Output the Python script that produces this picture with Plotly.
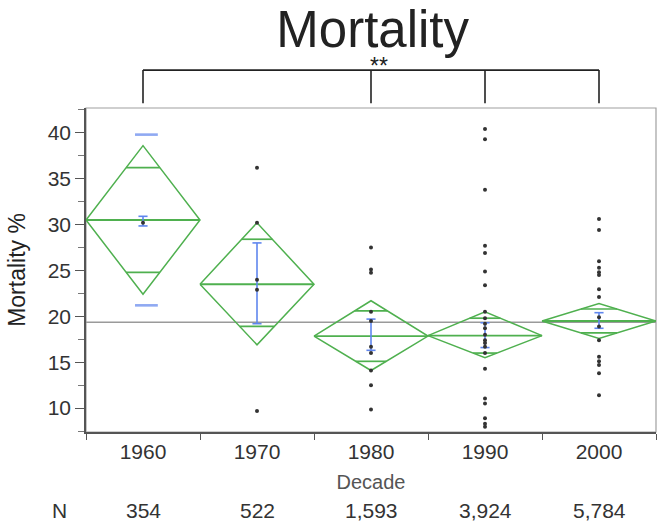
import plotly.graph_objects as go

# ---------------- data ----------------
decades = ["1960", "1970", "1980", "1990", "2000"]
n_values = ["354", "522", "1,593", "3,924", "5,784"]

means = [30.5, 23.5, 17.85, 17.9, 19.5]
ci_upper = [38.6, 30.2, 21.7, 20.5, 21.4]
ci_lower = [22.4, 16.9, 14.1, 15.5, 17.6]
overlap_hi = [36.2, 28.4, 20.6, 19.8, 20.8]
overlap_lo = [24.8, 18.9, 15.1, 16.0, 18.2]

err_hi = [30.9, 28.0, 19.7, 19.3, 20.4]
err_lo = [29.85, 19.2, 16.3, 16.6, 18.7]

std_hi = [39.8, None, None, None, None]
std_lo = [21.2, None, None, None, None]

grand_mean = 19.35

points = {
    "1960": [30.2],
    "1970": [36.2, 30.2, 24.0, 22.9, 9.7],
    "1980": [27.5, 25.1, 24.75, 20.5, 19.5, 16.7, 16.0, 14.1, 12.5, 9.86],
    "1990": [40.4, 39.3, 33.8, 27.7, 26.9, 24.9, 23.4, 20.5, 19.8, 19.2, 18.7,
             18.0, 17.4, 17.1, 16.7, 16.0, 14.3, 11.05, 10.5, 8.9, 8.3, 7.96],
    "2000": [30.6, 29.4, 26.0, 25.3, 24.8, 24.5, 22.95, 22.1, 19.9, 18.9, 17.4,
             15.6, 15.1, 14.7, 13.8, 11.4],
}

bracket_groups = ["1960", "1980", "1990", "2000"]
bracket_label = "**"

# ---------------- styling ----------------
FONT = "Liberation Sans, Arial, sans-serif"
GREEN = "#4fb04f"
BLUE = "#5f86ee"
LIGHTBLUE = "#8fa9f2"
HALF = 0.5

fig = go.Figure()

# grand mean line
fig.add_trace(go.Scatter(x=[-0.5, len(decades) - 0.5], y=[grand_mean, grand_mean],
                         xaxis="x2", mode="lines",
                         line=dict(color="#9a9a9a", width=1.6),
                         hoverinfo="skip", showlegend=False))

# diamonds
dx, dy = [], []
mx, my = [], []
ox, oy = [], []
for i, d in enumerate(decades):
    m, u, l = means[i], ci_upper[i], ci_lower[i]
    dx += [i - HALF, i, i + HALF, i, i - HALF, None]
    dy += [m, u, m, l, m, None]
    mx += [i - HALF, i + HALF, None]
    my += [m, m, None]
    for ov, edge in ((overlap_hi[i], u), (overlap_lo[i], l)):
        w = HALF * abs(edge - ov) / abs(edge - m)
        ox += [i - w, i + w, None]
        oy += [ov, ov, None]

fig.add_trace(go.Scatter(x=dx, y=dy, xaxis="x2", mode="lines",
                         line=dict(color=GREEN, width=1.5),
                         hoverinfo="skip", showlegend=False))
fig.add_trace(go.Scatter(x=mx, y=my, xaxis="x2", mode="lines",
                         line=dict(color=GREEN, width=1.9),
                         hoverinfo="skip", showlegend=False))
fig.add_trace(go.Scatter(x=ox, y=oy, xaxis="x2", mode="lines",
                         line=dict(color=GREEN, width=1.7),
                         hoverinfo="skip", showlegend=False))

# std dev dashes
sx, sy = [], []
for i, d in enumerate(decades):
    for v in (std_hi[i], std_lo[i]):
        if v is not None:
            sx += [i - 0.07, i + 0.13, None]
            sy += [v, v, None]
fig.add_trace(go.Scatter(x=sx, y=sy, xaxis="x2", mode="lines",
                         line=dict(color=LIGHTBLUE, width=2.6),
                         hoverinfo="skip", showlegend=False))

# mean error bars
ex, ey = [], []
cap = 0.04
for i, d in enumerate(decades):
    ex += [i, i, None, i - cap, i + cap, None, i - cap, i + cap, None]
    ey += [err_lo[i], err_hi[i], None, err_lo[i], err_lo[i], None,
           err_hi[i], err_hi[i], None]
fig.add_trace(go.Scatter(x=ex, y=ey, xaxis="x2", mode="lines",
                         line=dict(color=BLUE, width=1.6),
                         hoverinfo="skip", showlegend=False))

# individual points
px, py = [], []
for i, d in enumerate(decades):
    for v in points[d]:
        px.append(i)
        py.append(v)
fig.add_trace(go.Scatter(x=px, y=py, xaxis="x2", mode="markers",
                         marker=dict(color="#333333", size=4),
                         hoverinfo="skip", showlegend=False))

# dummy trace on the category axis so the labels show
fig.add_trace(go.Scatter(x=decades, y=[None] * len(decades), mode="markers",
                         hoverinfo="skip", showlegend=False))

# frame (top/right light lines)
fig.add_shape(type="rect", xref="paper", yref="paper", x0=0, x1=1, y0=0, y1=1,
              line=dict(color="#a0a0a0", width=1.2), layer="below")

# comparison bracket
b_idx = [decades.index(g) for g in bracket_groups]
y_top, y_bot = 1.117, 1.015
fig.add_shape(type="line", xref="x2", yref="paper", x0=min(b_idx), x1=max(b_idx),
              y0=y_top, y1=y_top, line=dict(color="#222", width=1.6))
for bi in b_idx:
    fig.add_shape(type="line", xref="x2", yref="paper", x0=bi, x1=bi,
                  y0=y_top, y1=y_bot, line=dict(color="#222", width=1.6))
fig.add_annotation(x=decades.index("1980") + 0.07, y=1.13, xref="x2", yref="paper",
                   text=bracket_label, showarrow=False,
                   font=dict(family=FONT, size=23, color="#222"),
                   yanchor="middle")

# N row
fig.add_annotation(x=-0.046, y=-0.241, xref="paper", yref="paper", text="N",
                   showarrow=False, font=dict(family=FONT, size=21, color="#333"),
                   xanchor="center", yanchor="middle")
for i, n in enumerate(n_values):
    fig.add_annotation(x=i, y=-0.241, xref="x2", yref="paper", text=n,
                       showarrow=False, font=dict(family=FONT, size=21, color="#333"),
                       yanchor="middle")

fig.update_layout(
    width=658, height=531,
    margin=dict(l=86, r=2, t=108, b=99, autoexpand=False),
    paper_bgcolor="white", plot_bgcolor="white",
    title=dict(text="Mortality", x=0.503, xref="paper", xanchor="center",
               y=0.946, yref="container", yanchor="middle",
               font=dict(family=FONT, size=51, color="#222")),
    xaxis=dict(type="category", categoryorder="array", categoryarray=decades,
               range=[-0.5, len(decades) - 0.5], tickson="boundaries",
               ticks="outside", ticklen=6, tickwidth=1.4, tickcolor="#555",
               showline=True, linecolor="#555", linewidth=1.6,
               showgrid=False, zeroline=False, automargin=False,
               tickfont=dict(family=FONT, size=21, color="#333"),
               title=dict(text="Decade", standoff=13,
                          font=dict(family=FONT, size=20, color="#555"))),
    xaxis2=dict(overlaying="x", range=[-0.5, len(decades) - 0.5],
                visible=False, showgrid=False, zeroline=False),
    yaxis=dict(range=[7.4, 42.7], dtick=5, tick0=0,
               ticks="outside", ticklen=9, tickwidth=1.4, tickcolor="#555",
               showline=True, linecolor="#555", linewidth=1.6,
               showgrid=False, zeroline=False, automargin=False,
               minor=dict(dtick=2.5, ticks="outside", ticklen=6,
                          tickcolor="#777", tickwidth=1.2),
               tickfont=dict(family=FONT, size=21, color="#333"),
               title=dict(text="Mortality %", standoff=16,
                          font=dict(family=FONT, size=23, color="#222"))),
)

fig.write_html("out.html",
               config={"displayModeBar": False},
               post_script="document.body.style.margin='0px';"
                           "document.body.style.overflow='hidden';")
